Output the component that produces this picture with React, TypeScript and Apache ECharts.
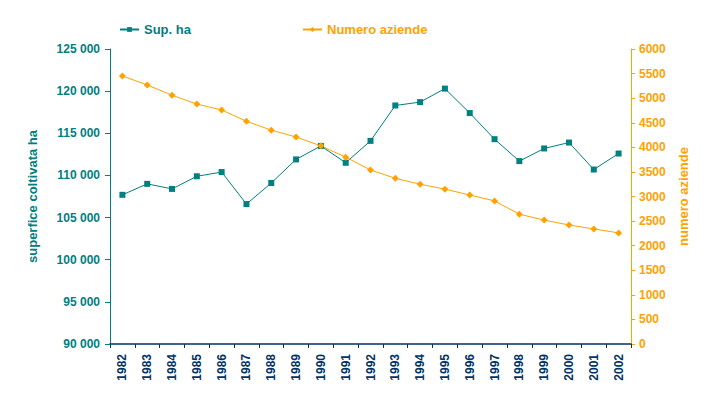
import React, { useEffect, useRef } from "react";
import * as echarts from "echarts";

const years = ["1982","1983","1984","1985","1986","1987","1988","1989","1990","1991","1992","1993","1994","1995","1996","1997","1998","1999","2000","2001","2002"];
const supHa = [107700,109000,108400,109900,110400,106600,109100,111900,113500,111500,114100,118300,118700,120300,117400,114300,111700,113200,113900,110700,112600];
const numeroAziende = [5450,5270,5060,4880,4760,4530,4350,4210,4030,3800,3540,3370,3250,3150,3030,2910,2640,2520,2420,2340,2260];

const TEAL = "#008080";
const ORANGE = "#FFA200";
const NAVY = "#003366";
const FONT = "'Liberation Sans', Arial, sans-serif";

export default function App() {
  const ref = useRef<HTMLDivElement>(null);
  useEffect(() => {
    const chart = echarts.init(ref.current!, null, { renderer: "svg" });
    chart.setOption({
      animation: false,
      backgroundColor: "#fff",
      textStyle: { fontFamily: FONT },
      legend: [
        {
          data: ["Sup. ha"], left: 119, top: 23, padding: 0, itemWidth: 19, itemHeight: 6,
          textStyle: { color: TEAL, fontWeight: "bold", fontSize: 13, fontFamily: FONT },
        },
        {
          data: ["Numero aziende"], left: 302, top: 23, padding: 0, itemWidth: 19, itemHeight: 6,
          textStyle: { color: ORANGE, fontWeight: "bold", fontSize: 13, fontFamily: FONT },
        },
      ],
      grid: { left: 110, right: 85, top: 49, bottom: 55 },
      xAxis: {
        type: "category",
        data: years,
        boundaryGap: true,
        axisLine: { lineStyle: { color: NAVY, width: 1.5 } },
        axisTick: { show: true, length: 4, lineStyle: { color: NAVY } },
        axisLabel: { rotate: 90, color: NAVY, fontWeight: "bold", fontSize: 12, fontFamily: FONT, margin: 10, interval: 0 },
      },
      yAxis: [
        {
          type: "value", min: 90000, max: 125000, interval: 5000, position: "left",
          name: "superfice coltivata ha", nameLocation: "middle", nameGap: 71, nameRotate: 90,
          nameTextStyle: { color: TEAL, fontWeight: "bold", fontSize: 13, fontFamily: FONT },
          axisLine: { show: true, lineStyle: { color: TEAL } },
          axisTick: { show: true, length: 5, lineStyle: { color: TEAL } },
          splitLine: { show: false },
          axisLabel: {
            color: TEAL, fontWeight: "bold", fontSize: 12, fontFamily: FONT, margin: 10,
            formatter: (v: number) => String(v).replace(/(\d)(?=(\d{3})+$)/g, "$1 "),
          },
        },
        {
          type: "value", min: 0, max: 6000, interval: 500, position: "right",
          name: "numero aziende", nameLocation: "middle", nameGap: 44, nameRotate: 90,
          nameTextStyle: { color: ORANGE, fontWeight: "bold", fontSize: 13, fontFamily: FONT },
          axisLine: { show: true, lineStyle: { color: ORANGE } },
          axisTick: { show: true, length: 4, lineStyle: { color: ORANGE } },
          splitLine: { show: false },
          axisLabel: { color: ORANGE, fontWeight: "bold", fontSize: 12, fontFamily: FONT, margin: 8, formatter: (v: number) => String(v) },
        },
      ],
      series: [
        {
          name: "Sup. ha", type: "line", yAxisIndex: 0, data: supHa,
          symbol: "rect", symbolSize: 6,
          lineStyle: { color: TEAL, width: 1 },
          itemStyle: { color: TEAL },
        },
        {
          name: "Numero aziende", type: "line", yAxisIndex: 1, data: numeroAziende,
          symbol: "diamond", symbolSize: 7,
          lineStyle: { color: ORANGE, width: 1 },
          itemStyle: { color: ORANGE },
        },
      ],
    });
    return () => chart.dispose();
  }, []);
  return <div ref={ref} style={{ width: 716, height: 399, position: "absolute", left: 0, top: 0 }} />;
}
